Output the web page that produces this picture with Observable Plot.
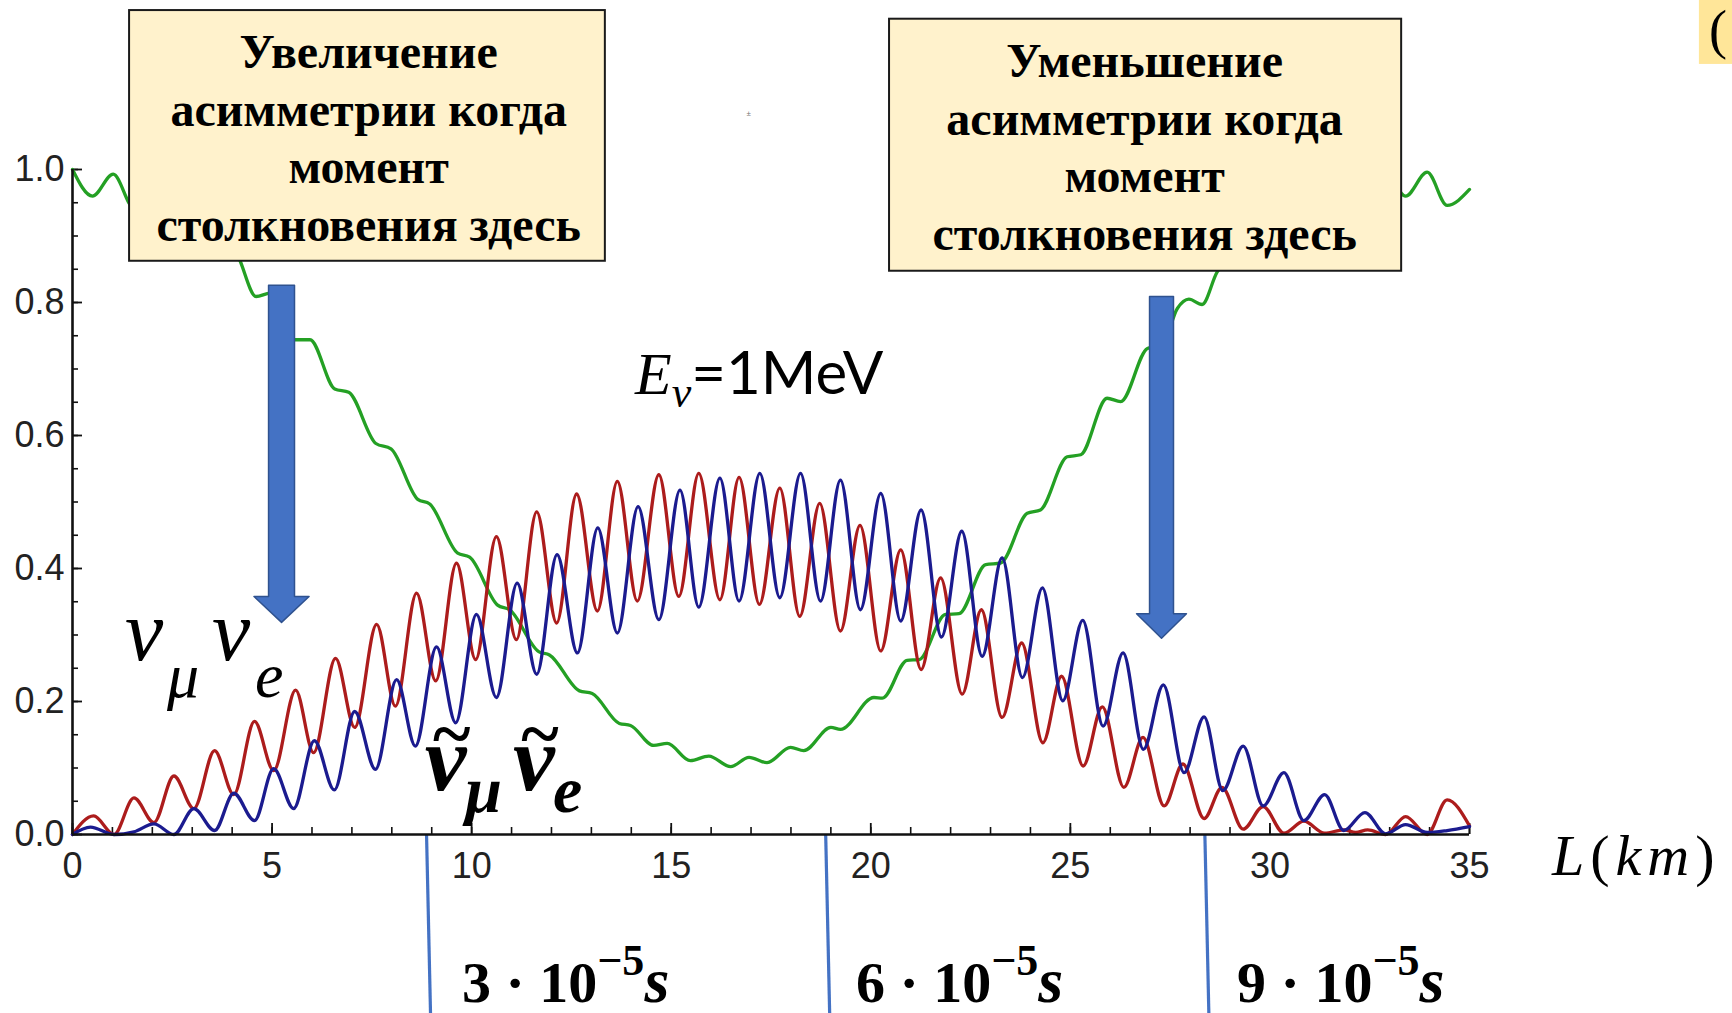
<!DOCTYPE html>
<html>
<head>
<meta charset="utf-8">
<script src="https://cdn.jsdelivr.net/npm/d3@7"></script>
<script src="https://cdn.jsdelivr.net/npm/@observablehq/plot@0.6"></script>
<style>
  html, body { margin: 0; padding: 0; background: #ffffff; }
  svg { display: block; }
</style>
</head>
<body>
<div id="chart"></div>
<script>
// ---------- data: [L (km), probability] ----------
const redSeries = [[0,0],[0.53,0.028],[1.04,0],[1.54,0.055],[2.04,0.018],[2.54,0.088],[3.04,0.039],[3.56,0.126],[4.04,0.06],[4.56,0.17],[5.04,0.096],[5.59,0.217],[6.04,0.123],[6.59,0.265],[7.07,0.161],[7.62,0.316],[8.09,0.193],[8.62,0.363],[9.1,0.231],[9.62,0.408],[10.1,0.263],[10.62,0.448],[11.12,0.293],[11.63,0.485],[12.13,0.318],[12.63,0.512],[13.15,0.336],[13.65,0.531],[14.15,0.351],[14.69,0.541],[15.19,0.358],[15.69,0.543],[16.22,0.353],[16.7,0.537],[17.21,0.346],[17.72,0.521],[18.22,0.328],[18.72,0.498],[19.24,0.306],[19.73,0.465],[20.25,0.276],[20.75,0.428],[21.26,0.248],[21.75,0.386],[22.29,0.211],[22.77,0.338],[23.29,0.176],[23.78,0.288],[24.31,0.138],[24.78,0.238],[25.32,0.103],[25.8,0.192],[26.34,0.071],[26.82,0.146],[27.35,0.043],[27.82,0.106],[28.35,0.024],[28.8,0.071],[29.33,0.008],[29.83,0.042],[30.35,0.002],[30.85,0.02],[31.37,0.002],[31.85,0.007],[32.15,0.003],[32.45,0.007],[32.9,0],[33.4,0.027],[33.94,0],[34.44,0.052],[35,0.013]];

const blueSeries = [[0,0],[0.45,0.011],[1.04,0],[1.54,0.004],[2.04,0.016],[2.54,0],[3.04,0.039],[3.56,0.006],[4.04,0.062],[4.56,0.021],[5.04,0.099],[5.54,0.039],[6.06,0.141],[6.56,0.067],[7.07,0.185],[7.59,0.098],[8.12,0.233],[8.59,0.133],[9.12,0.282],[9.6,0.168],[10.12,0.331],[10.62,0.206],[11.14,0.378],[11.63,0.241],[12.14,0.421],[12.65,0.273],[13.16,0.461],[13.65,0.303],[14.17,0.493],[14.69,0.323],[15.22,0.518],[15.69,0.342],[16.22,0.536],[16.7,0.351],[17.22,0.543],[17.72,0.356],[18.24,0.543],[18.74,0.351],[19.24,0.533],[19.74,0.338],[20.25,0.513],[20.75,0.321],[21.26,0.488],[21.77,0.297],[22.28,0.456],[22.79,0.268],[23.29,0.416],[23.8,0.236],[24.3,0.371],[24.81,0.201],[25.31,0.322],[25.82,0.163],[26.32,0.273],[26.83,0.128],[27.33,0.225],[27.85,0.093],[28.35,0.177],[28.82,0.066],[29.33,0.133],[29.83,0.043],[30.35,0.093],[30.85,0.021],[31.37,0.06],[31.85,0.006],[32.38,0.033],[32.9,0.001],[33.4,0.015],[33.94,0.003],[34.44,0.006],[35,0.012]];

const greenSeries = [[0,1.0],[0.5,0.96],[1.02,0.993],[1.54,0.942],[2.04,0.966],[2.54,0.912],[3.04,0.922],[3.56,0.868],[4.04,0.876],[4.6,0.809],[4.95,0.814],[5.57,0.744],[5.95,0.744],[6.57,0.67],[6.92,0.665],[7.6,0.588],[7.98,0.58],[8.65,0.504],[8.95,0.497],[9.65,0.423],[9.95,0.417],[10.65,0.345],[10.95,0.338],[11.68,0.275],[11.95,0.27],[12.7,0.216],[13.02,0.212],[13.7,0.167],[13.98,0.164],[14.56,0.134],[14.9,0.137],[15.48,0.111],[15.94,0.118],[16.49,0.102],[16.95,0.116],[17.4,0.108],[17.99,0.131],[18.32,0.126],[19.0,0.161],[19.24,0.158],[20.08,0.206],[20.29,0.205],[20.91,0.262],[21.21,0.263],[21.87,0.331],[22.21,0.332],[22.88,0.406],[23.25,0.408],[23.92,0.483],[24.25,0.488],[24.92,0.568],[25.26,0.571],[25.92,0.656],[26.26,0.651],[26.93,0.731],[27.3,0.736],[27.68,0.791],[27.97,0.805],[28.3,0.797],[28.68,0.846],[28.9,0.862],[29.33,0.86],[29.83,0.915],[30.35,0.905],[30.85,0.955],[31.37,0.94],[31.85,0.985],[32.38,0.965],[32.9,0.995],[33.4,0.96],[33.94,0.996],[34.44,0.946],[35,0.97]];

// ticks
const xTicks = [0, 5, 10, 15, 20, 25, 30, 35];
const xMinorTicks = d3.range(0, 36, 1);
const yTicks = [0, 0.2, 0.4, 0.6, 0.8, 1.0];
const yMinorTicks = d3.range(0, 21).map(i => i * 0.05);

// time markers (c·t in km) and their labels
const timeMarkL = [8.9, 18.9, 28.4];
const timeMarkLabels = ["3", "6", "9"];

// annotation texts
const leftBoxText = "Увеличение\nасимметрии когда\nмомент\nстолкновения здесь";
const rightBoxText = "Уменьшение\nасимметрии когда\nмомент\nстолкновения здесь";

// ---------- layout (data-unit placement of annotations) ----------
const boxes = [
  {x1: 1.43, x2: 13.35, y1: 0.862, y2: 1.239, text: leftBoxText, tx: 7.42, ty: 1.050},
  {x1: 20.47, x2: 33.30, y1: 0.847, y2: 1.226, text: rightBoxText, tx: 26.86, ty: 1.037}
];
const arrows = [
  {cx: 5.237, shaftW: 0.65, headW: 1.38, top: 0.826, headTop: 0.358, tip: 0.319},
  {cx: 27.284, shaftW: 0.60, headW: 1.25, top: 0.809, headTop: 0.332, tip: 0.295}
];

const table = (s, name) => s.map(([L, P]) => ({L, P, name}));
const red = table(redSeries, "red"), blue = table(blueSeries, "blue"), green = table(greenSeries, "green");

function arrowPolygon(a) {
  const hs = a.shaftW / 2, hh = a.headW / 2;
  return [
    {L: a.cx - hs, P: a.top}, {L: a.cx + hs, P: a.top}, {L: a.cx + hs, P: a.headTop},
    {L: a.cx + hh, P: a.headTop}, {L: a.cx, P: a.tip}, {L: a.cx - hh, P: a.headTop},
    {L: a.cx - hs, P: a.headTop}, {L: a.cx - hs, P: a.top}
  ];
}

const W = 1732, H = 1013;
const mL = 72, mR = 263, mT = 169, mB = 179;
const frameW = W - mL - mR, frameH = H - mT - mB;

const chart = Plot.plot({
  width: W, height: H,
  marginLeft: mL, marginRight: mR, marginTop: mT, marginBottom: mB,
  style: {background: "#ffffff", fontFamily: "Liberation Sans, Arial, sans-serif", overflow: "visible"},
  x: {domain: [0, 35]},
  y: {domain: [0, 1]},
  marks: [
    Plot.axisX(xTicks, {tickSize: 0, tickPadding: 18, fontSize: 36, fill: "#222", label: null, tickFormat: d => String(d)}),
    Plot.axisY(yTicks, {tickSize: 0, tickPadding: 8, fontSize: 36, fill: "#222", label: null, tickFormat: d3.format(".1f")}),
    Plot.tickX(xMinorTicks, {x: d => d, insetTop: frameH - 7, stroke: "#111", strokeWidth: 1.6}),
    Plot.tickX(xTicks, {x: d => d, insetTop: frameH - 11, stroke: "#111", strokeWidth: 1.8}),
    Plot.tickY(yMinorTicks, {y: d => d, insetRight: frameW - 6, stroke: "#111", strokeWidth: 1.6}),
    Plot.tickY(yTicks, {y: d => d, insetRight: frameW - 10, stroke: "#111", strokeWidth: 1.8}),
    // time markers
    Plot.link(timeMarkL, {x1: d => d - 0.03, x2: d => d + 0.07, y1: 0, y2: -0.27, stroke: "#4472C4", strokeWidth: 3.2}),
    // curves
    Plot.line(green, {x: "L", y: "P", curve: "monotone-x", stroke: "#24A024", strokeWidth: 3.3}),
    Plot.line(red, {x: "L", y: "P", curve: "monotone-x", stroke: "#AC1C1C", strokeWidth: 3.3}),
    Plot.line(blue, {x: "L", y: "P", curve: "monotone-x", stroke: "#1B1B8F", strokeWidth: 3.3}),
    // axis lines
    Plot.ruleY([0], {x1: 0, x2: 35, stroke: "#111", strokeWidth: 2.6}),
    Plot.ruleX([0], {y1: 0, y2: 1, stroke: "#111", strokeWidth: 2.6}),
    // annotation boxes
    Plot.rect(boxes, {x1: "x1", x2: "x2", y1: "y1", y2: "y2", fill: "#FFF2CC", stroke: "#1a1a1a", strokeWidth: 2}),
    Plot.text(boxes, {x: "tx", y: "ty", text: "text", fontFamily: "Liberation Serif, Times New Roman, serif", fontWeight: "bold", fontSize: 48, lineHeight: 1.2, fill: "#000", textAnchor: "middle"}),
    // arrows
    ...arrows.map(a => Plot.line(arrowPolygon(a), {x: "L", y: "P", fill: "#4472C4", stroke: "#2F528F", strokeWidth: 1.5, curve: "linear"})),
    // corner box
    Plot.rect([{x1: 40.76, x2: 41.7, y1: 1.158, y2: 1.26}], {x1: "x1", x2: "x2", y1: "y1", y2: "y2", fill: "#FFE699"}),
    Plot.text(["("], {x: 41.0, y: 1.183, text: d => d, fontFamily: "Liberation Serif, serif", fontSize: 54, textAnchor: "start", lineAnchor: "bottom", fill: "#000"}),
    Plot.text(["±"], {x: 16.94, y: 1.084, text: d => d, fontSize: 8, fill: "#777"})
  ]
});

document.getElementById("chart").appendChild(chart);

// ---------- rich text annotations placed through the chart's scales ----------
const sx = chart.scale("x"), sy = chart.scale("y");
const px = v => sx.apply(v), py = v => sy.apply(v);
const svg = d3.select(chart);
const SERIF = "Liberation Serif, Times New Roman, serif";

function styleSpan(s, p) {
  s.attr("font-family", p.family || SERIF)
   .attr("font-size", p.size)
   .attr("font-style", p.italic ? "italic" : "normal")
   .attr("font-weight", p.bold ? "bold" : "normal");
  return s;
}

function rich(L, P, parts, anchor = "start", extra = {}) {
  const t = svg.append("text").attr("x", px(L)).attr("y", py(P)).attr("text-anchor", anchor).attr("fill", "#000");
  for (const [k, v] of Object.entries(extra)) t.attr(k, v);
  for (const p of parts) {
    const s = styleSpan(t.append("tspan").text(p.text), p);
    if (p.dy) s.attr("dy", p.dy);
  }
  return t;
}

// one text element whose glyphs are individually placed
function glyphGroup(glyphs, common) {
  const t = svg.append("text").attr("fill", "#000").attr("text-anchor", "start");
  for (const g of glyphs) {
    const s = styleSpan(t.append("tspan").text(g.t), {...common, size: g.size});
    s.attr("x", px(g.L)).attr("y", py(g.P)).attr("text-anchor", "start");
    if (g.tilde) {
      const probe = styleSpan(svg.append("text").text(g.t), {...common, size: g.size});
      const w = probe.node().getComputedTextLength();
      probe.remove();
      const tl = styleSpan(t.append("tspan").text("~"), {size: 72, bold: true});
      tl.attr("x", px(g.L) + w / 2 + 6).attr("y", py(0.115)).attr("text-anchor", "middle");
    }
  }
  return t;
}

// E_ν = 1MeV
rich(14.105, 0.6617, [
  {text: "E", size: 60, italic: true},
  {text: "ν", size: 44, italic: true, dy: 13},
  {text: "=1MeV", size: 60, family: "Lato, Carlito, sans-serif", dy: -13}
]);

// ν_μ ν_e
glyphGroup([
  {L: 1.33, P: 0.2617, t: "ν", size: 86},
  {L: 2.38, P: 0.206, t: "μ", size: 64},
  {L: 3.51, P: 0.2617, t: "ν", size: 86},
  {L: 4.585, P: 0.206, t: "e", size: 64}
], {italic: true});

// anti-ν_μ anti-ν_e
glyphGroup([
  {L: 8.84, P: 0.0662, t: "ν", size: 94, tilde: true},
  {L: 9.85, P: 0.0331, t: "μ", size: 66},
  {L: 11.05, P: 0.0662, t: "ν", size: 94, tilde: true},
  {L: 12.05, P: 0.0331, t: "e", size: 66}
], {italic: true, bold: true});

// L(km)
rich(37.08, -0.0617, [
  {text: "L", size: 58, italic: true},
  {text: "(", size: 58},
  {text: "km", size: 58, italic: true},
  {text: ")", size: 58}
], "start", {"letter-spacing": 6});

// time labels
const timeLabelL = [9.77, 19.64, 29.19];
timeLabelL.forEach((L, i) => {
  rich(L, -0.252, [
    {text: timeMarkLabels[i] + " · 10", size: 58, bold: true},
    {text: "−5", size: 44, bold: true, dy: -27},
    {text: "s", size: 64, bold: true, italic: true, dy: 27}
  ]);
});
</script>
</body>
</html>
